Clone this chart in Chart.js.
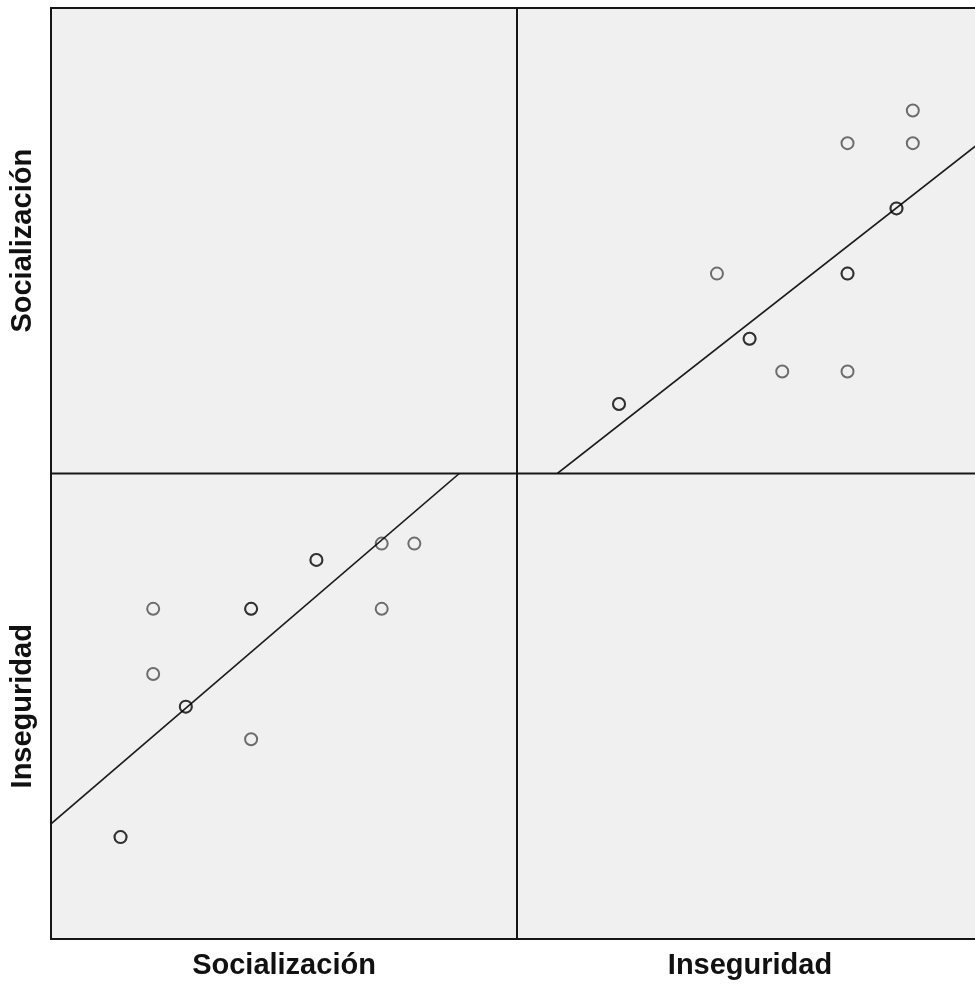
<!DOCTYPE html>
<html><head><meta charset="utf-8">
<script src="https://cdn.jsdelivr.net/npm/chart.js@4"></script>
<style>
html,body{margin:0;padding:0;background:#fff;overflow:hidden;}
#wrap{width:975px;height:987px;overflow:hidden;position:relative;background:#fff;}
#c{position:absolute;left:0;top:0;}
</style></head><body>
<div id="wrap"><canvas id="c" width="1000" height="987"></canvas></div>
<script>
// Variables of the scatterplot matrix
const variableNames = ['Socialización', 'Inseguridad'];
// Cases (duplicated cases appear as darker circles)
const socializacion = [10, 10, 12, 12, 14, 14, 18, 18, 18, 22, 22, 26, 26, 28];
const inseguridad   = [ 8,  8, 22, 18, 16, 16, 22, 22, 14, 25, 25, 26, 22, 26];
// Axis ranges
const rangeSocializacion = [5.74, 34.29];
const rangeInseguridad   = [1.75, 30.30];
// Linear fit lines
const fitInsegOnSocial = { intercept: 3.88, slope: 0.859 };
const fitSocialOnInseg = { intercept: 2.43, slope: 0.784 };

function fitSegment(fit, xr, yr) {
  let x0 = xr[0], y0 = fit.intercept + fit.slope * x0;
  if (y0 < yr[0]) { y0 = yr[0]; x0 = (y0 - fit.intercept) / fit.slope; }
  let x1 = xr[1], y1 = fit.intercept + fit.slope * x1;
  if (y1 > yr[1]) { y1 = yr[1]; x1 = (y1 - fit.intercept) / fit.slope; }
  return [{x: x0, y: y0}, {x: x1, y: y1}];
}

const titleFont = { family: '"Liberation Sans", Arial, sans-serif', size: 29, weight: 'bold' };
const pointStyle = {
  pointRadius: 6, pointHoverRadius: 6, pointBorderWidth: 2, pointHoverBorderWidth: 2,
  pointBackgroundColor: 'rgba(0,0,0,0)', pointBorderColor: 'rgba(0,0,0,0.55)',
  borderColor: 'rgba(0,0,0,0)', backgroundColor: 'rgba(0,0,0,0)', showLine: false
};
const lineStyle = {
  showLine: true, pointRadius: 0, pointHoverRadius: 0, borderColor: '#1a1a1a', borderWidth: 1.6,
  backgroundColor: 'rgba(0,0,0,0)', fill: false
};

const panelPlugin = {
  id: 'panels',
  beforeDatasetsDraw(chart) {
    const {ctx, chartArea: a} = chart;
    ctx.save();
    ctx.fillStyle = '#f0f0f0';
    ctx.fillRect(a.left, a.top, a.right - a.left, a.bottom - a.top);
    ctx.restore();
  },
  afterDatasetsDraw(chart) {
    const {ctx, chartArea: a, scales} = chart;
    ctx.save();
    ctx.strokeStyle = '#161616';
    ctx.lineWidth = 2;
    ctx.strokeRect(a.left, a.top, a.right - a.left, a.bottom - a.top);
    ctx.beginPath();
    const xm = scales.xS.right, ym = scales.yS.bottom;
    ctx.moveTo(xm, a.top); ctx.lineTo(xm, a.bottom);
    ctx.moveTo(a.left, ym); ctx.lineTo(a.right, ym);
    ctx.stroke();
    ctx.restore();
  }
};

function axis(pos, range, text, padding) {
  return {
    type: 'linear', position: pos, stack: pos, stackWeight: 1,
    min: range[0], max: range[1],
    grid: { display: false, drawTicks: false },
    border: { display: false },
    ticks: { display: false },
    title: { display: true, text: text, font: titleFont, color: '#111', padding: padding }
  };
}

new Chart(document.getElementById('c'), {
  type: 'scatter',
  data: {
    datasets: [
      Object.assign({ label: variableNames[1] + ' vs ' + variableNames[0], xAxisID: 'xS', yAxisID: 'yI',
        data: socializacion.map((s, i) => ({x: s, y: inseguridad[i]})) }, pointStyle),
      Object.assign({ label: variableNames[0] + ' vs ' + variableNames[1], xAxisID: 'xI', yAxisID: 'yS',
        data: inseguridad.map((v, i) => ({x: v, y: socializacion[i]})) }, pointStyle),
      Object.assign({ label: 'Ajuste 1', xAxisID: 'xS', yAxisID: 'yI',
        data: fitSegment(fitInsegOnSocial, rangeSocializacion, rangeInseguridad) }, lineStyle),
      Object.assign({ label: 'Ajuste 2', xAxisID: 'xI', yAxisID: 'yS',
        data: fitSegment(fitSocialOnInseg, rangeInseguridad, rangeSocializacion) }, lineStyle)
    ]
  },
  options: {
    responsive: false, devicePixelRatio: 1, animation: false, events: [],
    layout: { padding: { left: 0, top: 8, right: 17, bottom: 0 } },
    plugins: { legend: { display: false }, tooltip: { enabled: false } },
    scales: {
      xS: axis('bottom', rangeSocializacion, variableNames[0], {top: 9.6, bottom: 3.6}),
      xI: axis('bottom', rangeInseguridad, variableNames[1], {top: 9.6, bottom: 3.6}),
      yI: axis('left', rangeInseguridad, variableNames[1], {top: 5.6, bottom: 10.6}),
      yS: axis('left', rangeSocializacion, variableNames[0], {top: 5.6, bottom: 10.6})
    }
  },
  plugins: [panelPlugin]
});
</script>
</body></html>
